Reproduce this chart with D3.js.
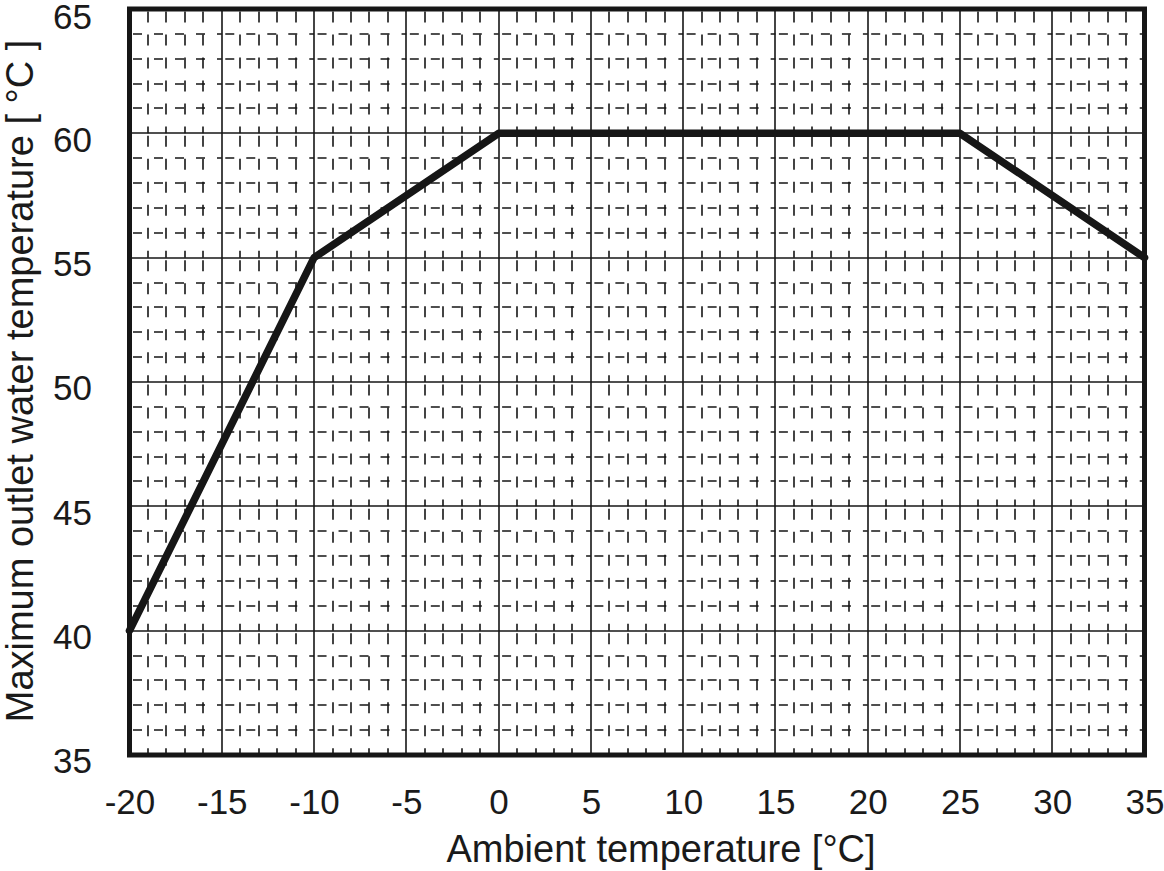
<!DOCTYPE html>
<html>
<head>
<meta charset="utf-8">
<script src="https://cdn.jsdelivr.net/npm/d3@7"></script>
<style>
  html, body { margin: 0; padding: 0; background: #fff; }
  svg { display: block; }
  text { font-family: "Liberation Sans", Arial, sans-serif; fill: #1a1a1a; }
</style>
</head>
<body>
<svg id="chart" width="1164" height="871"></svg>
<script>
// Data
const ambientTemp = [-20, -10, 0, 25, 35];
const maxOutletTemp = [40, 55, 60, 60, 55];
const xTicks = [-20, -15, -10, -5, 0, 5, 10, 15, 20, 25, 30, 35];
const yTicks = [35, 40, 45, 50, 55, 60, 65];
const xTitle = "Ambient temperature [°C]";
const yTitle = "Maximum outlet water temperature [ °C ]";

(function () {
const svg = d3.select("#chart");
const pLeft = 129.5, pRight = 1144.5, pTop = 9, pBottom = 755;

const x = d3.scaleLinear().domain([-20, 35]).range([pLeft, pRight]);
const y = d3.scaleLinear().domain([35, 65]).range([pBottom, pTop]);

const ink = "#161616";
const grid = svg.append("g");

// Minor grid (every 1 unit), dashed; dash pattern restarts at each major cell
const xMinor = d3.range(-19, 35).filter(v => v % 5 !== 0);
const yMinor = d3.range(36, 65).filter(v => v % 5 !== 0);

const vSegs = [];
xMinor.forEach(v => {
  for (let k = 0; k < yTicks.length - 1; k++) {
    vSegs.push({ v, y0: yTicks[k + 1], y1: yTicks[k] }); // top -> bottom
  }
});
grid.selectAll("line.vminor").data(vSegs).enter().append("line")
  .attr("x1", d => Math.round(x(d.v))).attr("x2", d => Math.round(x(d.v)))
  .attr("y1", d => y(d.y0)).attr("y2", d => y(d.y1))
  .attr("stroke", ink).attr("stroke-width", 1.6)
  .attr("stroke-dasharray", "11,12")
  .attr("stroke-dashoffset", -2.5);

const hSegs = [];
yMinor.forEach(v => {
  for (let k = 0; k < xTicks.length - 1; k++) {
    hSegs.push({ v, x0: xTicks[k], x1: xTicks[k + 1] }); // left -> right
  }
});
grid.selectAll("line.hminor").data(hSegs).enter().append("line")
  .attr("x1", d => x(d.x0)).attr("x2", d => x(d.x1))
  .attr("y1", d => Math.round(y(d.v))).attr("y2", d => Math.round(y(d.v)))
  .attr("stroke", ink).attr("stroke-width", 1.6)
  .attr("stroke-dasharray", "9,12")
  .attr("stroke-dashoffset", -3.5);

// Major grid
grid.selectAll("line.vmajor").data(xTicks.slice(1, -1)).enter().append("line")
  .attr("x1", d => Math.round(x(d))).attr("x2", d => Math.round(x(d)))
  .attr("y1", pTop).attr("y2", pBottom)
  .attr("stroke", ink).attr("stroke-width", 1.6);
grid.selectAll("line.hmajor").data(yTicks.slice(1, -1)).enter().append("line")
  .attr("x1", pLeft).attr("x2", pRight)
  .attr("y1", d => Math.round(y(d))).attr("y2", d => Math.round(y(d)))
  .attr("stroke", ink).attr("stroke-width", 1.6);

// Data line
const pts = ambientTemp.map((t, i) => [t, maxOutletTemp[i]]);
svg.append("path")
  .datum(pts)
  .attr("d", d3.line().x(d => x(d[0])).y(d => y(d[1])))
  .attr("fill", "none").attr("stroke", ink)
  .attr("stroke-width", 7.5).attr("stroke-linejoin", "round").attr("stroke-linecap", "round");

// Frame
svg.append("rect")
  .attr("x", pLeft).attr("y", pTop)
  .attr("width", pRight - pLeft).attr("height", pBottom - pTop)
  .attr("fill", "none").attr("stroke", ink).attr("stroke-width", 5);

// Axes (labels only)
const fmt = d => String(d);
const xAxis = d3.axisBottom(x).tickValues(xTicks).tickSize(0).tickPadding(0).tickFormat(fmt);
const gx = svg.append("g").attr("transform", `translate(0,${pBottom})`).call(xAxis);
gx.select(".domain").remove();
gx.selectAll("text").attr("font-size", 35).attr("dy", null).attr("y", 59)
  .style("font-family", '"Liberation Sans", Arial, sans-serif').attr("fill", ink);

const yAxis = d3.axisLeft(y).tickValues(yTicks).tickSize(0).tickPadding(0).tickFormat(fmt);
const gy = svg.append("g").attr("transform", `translate(92,0)`).call(yAxis);
gy.select(".domain").remove();
gy.selectAll("text").attr("font-size", 35).attr("dy", "0.34em").attr("x", 0)
  .attr("y", d => d === 65 ? 7.5 : 6)
  .style("font-family", '"Liberation Sans", Arial, sans-serif').attr("fill", ink);

// Titles
svg.append("text")
  .attr("x", 661).attr("y", 862)
  .attr("text-anchor", "middle").attr("font-size", 38)
  .text(xTitle);

svg.append("text")
  .attr("transform", "translate(33,381) rotate(-90)")
  .attr("text-anchor", "middle").attr("font-size", 38)
  .text(yTitle);
})();
</script>
</body>
</html>
